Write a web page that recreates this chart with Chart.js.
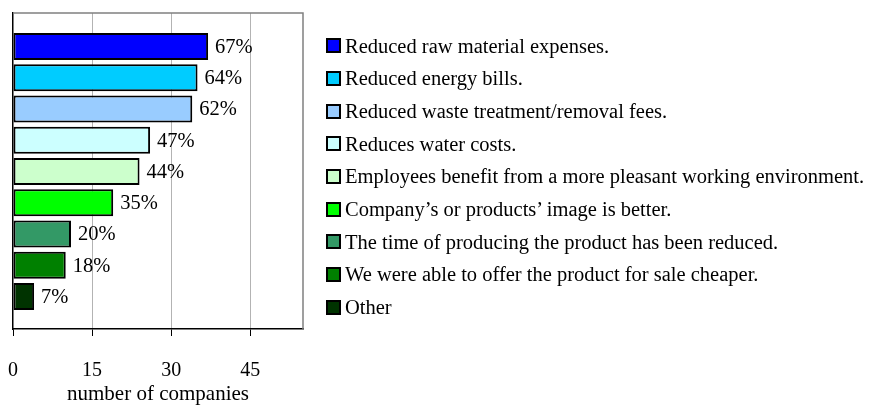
<!DOCTYPE html>
<html>
<head>
<meta charset="utf-8">
<script src="https://cdn.jsdelivr.net/npm/chart.js@4.4.1/dist/chart.umd.min.js"></script>
<style>
html, body { margin: 0; padding: 0; background: #fff; }
#wrap { position: relative; width: 873px; height: 406px; overflow: hidden; }
#c { position: absolute; left: 0; top: 0; }
.row { position: absolute; left: 326px; height: 24px; font-family: "Liberation Serif", "Times New Roman", serif; font-size: 20.5px; color: #000; white-space: nowrap; }
.box { position: absolute; left: 0; top: 4.5px; width: 15px; height: 15px; box-sizing: border-box; border: 2px solid #000; }
.txt { position: absolute; left: 19px; top: 0; line-height: 24px; }
</style>
</head>
<body>
<div id="wrap">
  <canvas id="c" width="873" height="406"></canvas>
  <div id="legend"></div>
</div>
<script>
// ---- data ----
const categories = [
  "Reduced raw material expenses.",
  "Reduced energy bills.",
  "Reduced waste treatment/removal fees.",
  "Reduces water costs.",
  "Employees benefit from a more pleasant working environment.",
  "Company\u2019s or products\u2019 image is better.",
  "The time of producing the product has been reduced.",
  "We were able to offer the product for sale cheaper.",
  "Other"
];
const companies = [37, 35, 34, 26, 24, 19, 11, 10, 4];
const percentLabels = ["67%", "64%", "62%", "47%", "44%", "35%", "20%", "18%", "7%"];
const barColors = ["#0000FF", "#00CCFF", "#99CCFF", "#CCFFFF", "#CCFFCC", "#00FF00", "#339966", "#008000", "#003300"];
const xTickValues = [0, 15, 30, 45];
const xMax = 55;
const axisTitle = "number of companies";

// ---- legend (HTML, built from the arrays) ----
const legendEl = document.getElementById('legend');
categories.forEach((name, i) => {
  const row = document.createElement('div');
  row.className = 'row';
  row.style.top = (45.8 + i * 32.65 - 12) + 'px';
  const box = document.createElement('div');
  box.className = 'box';
  box.style.background = barColors[i];
  const txt = document.createElement('div');
  txt.className = 'txt';
  txt.textContent = name;
  row.appendChild(box);
  row.appendChild(txt);
  legendEl.appendChild(row);
});

// ---- plugins ----
const frame = {
  id: 'frame',
  beforeDatasetsDraw(chart) {
    const {ctx, chartArea: a} = chart;
    ctx.save();
    ctx.strokeStyle = '#808080';
    ctx.lineWidth = 1.5;
    ctx.beginPath();
    ctx.moveTo(a.left, a.top);
    ctx.lineTo(a.right, a.top);
    ctx.lineTo(a.right, a.bottom);
    ctx.stroke();
    ctx.restore();
  }
};
const valueLabels = {
  id: 'valueLabels',
  afterDatasetsDraw(chart) {
    const ctx = chart.ctx;
    const meta = chart.getDatasetMeta(0);
    ctx.save();
    ctx.font = '20.5px "Liberation Serif", "Times New Roman", serif';
    ctx.fillStyle = '#000';
    ctx.textAlign = 'left';
    ctx.textBaseline = 'middle';
    meta.data.forEach((bar, i) => ctx.fillText(percentLabels[i], bar.x + 7, bar.y + 1));
    ctx.restore();
  }
};

new Chart(document.getElementById('c'), {
  type: 'bar',
  data: {
    labels: categories,
    datasets: [{
      data: companies.map((v, i) => ({x: v, y: i})),
      backgroundColor: barColors,
      borderColor: '#000',
      borderWidth: 2,
      borderSkipped: false,
      categoryPercentage: 1,
      barPercentage: 0.87
    }]
  },
  options: {
    indexAxis: 'y',
    responsive: false,
    animation: false,
    events: [],
    layout: { padding: { left: 13, top: 13, right: 570, bottom: 0 } },
    plugins: { legend: { display: false }, tooltip: { enabled: false } },
    scales: {
      x: {
        type: 'linear',
        position: 'bottom',
        min: 0,
        max: xMax,
        afterBuildTicks: s => { s.ticks = xTickValues.map(v => ({value: v})); },
        afterFit: s => { s.height = 77; s.paddingLeft = 0; s.paddingRight = 0; },
        ticks: {
          color: '#000',
          padding: 23,
          font: { family: '"Liberation Serif", "Times New Roman", serif', size: 20 },
          maxRotation: 0
        },
        grid: {
          color: c => (c.tick && c.tick.value === 0) ? 'rgba(0,0,0,0)' : '#b3b3b3',
          lineWidth: 1,
          tickLength: 7,
          tickColor: '#000'
        },
        border: { display: true, color: '#000', width: 1.5 },
        title: {
          display: true,
          text: axisTitle,
          color: '#000',
          font: { family: '"Liberation Serif", "Times New Roman", serif', size: 21 },
          padding: { top: 0, bottom: -1 }
        }
      },
      y: {
        type: 'linear',
        reverse: true,
        offset: false,
        min: -1.072,
        max: 9.04,
        afterBuildTicks: s => { s.ticks = companies.map((v, i) => ({value: i})); },
        afterFit: s => { s.width = 0; },
        ticks: { display: false },
        grid: { display: false, drawTicks: false, offset: false },
        border: { display: true, color: '#000', width: 1.5 }
      }
    }
  },
  plugins: [frame, valueLabels]
});
</script>
</body>
</html>
